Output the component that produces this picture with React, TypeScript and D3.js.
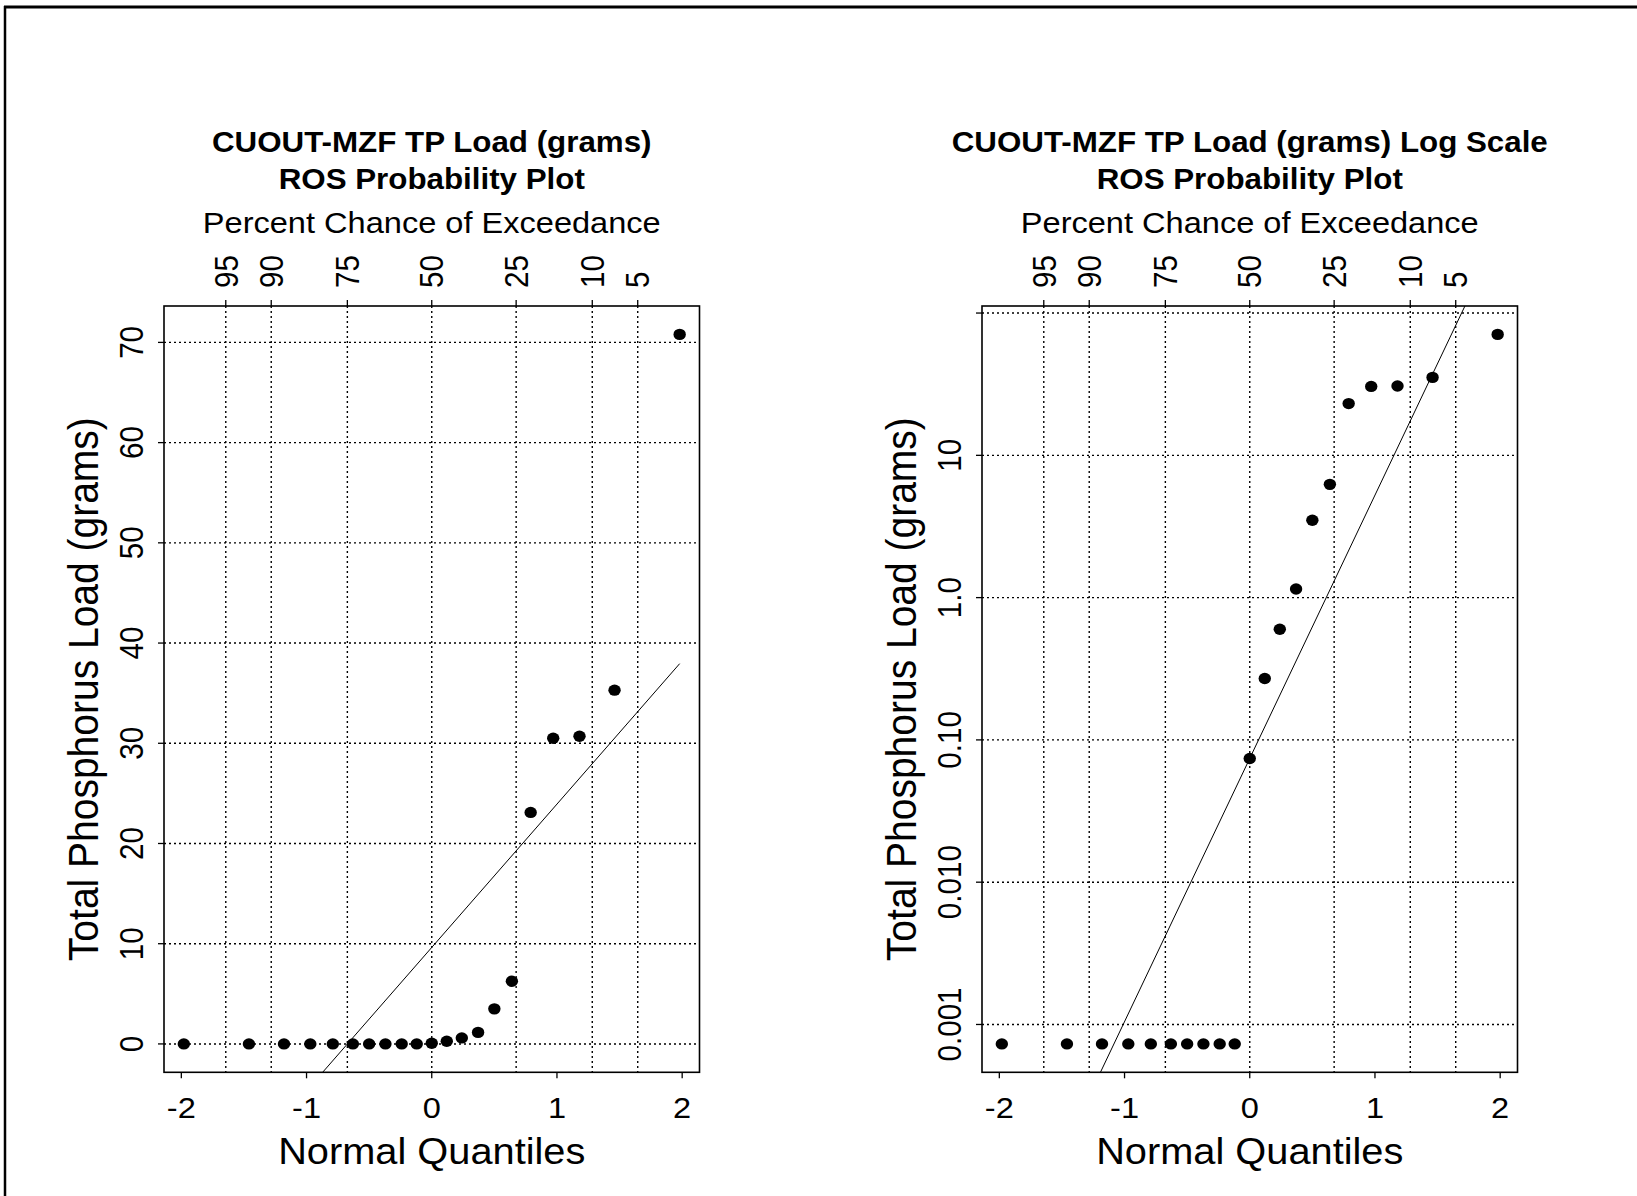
import React from 'react';
import * as d3 from 'd3';

const W = 1637;
const H = 1196;
const FONT = '"Liberation Sans", Arial, Helvetica, sans-serif';
const SX = 1.1; // the original picture is a little wider than tall

// normal quantile of each plotted point
const quantiles = [
  -1.98, -1.46, -1.18, -0.97, -0.79, -0.63, -0.5, -0.37, -0.24, -0.12,
  0, 0.12, 0.24, 0.37, 0.5, 0.64, 0.79, 0.97, 1.18, 1.46, 1.98,
];
// TP load in grams; the ten nondetects sit at ~0.00073
const loads = [
  0.00073, 0.00073, 0.00073, 0.00073, 0.00073, 0.00073, 0.00073, 0.00073, 0.00073, 0.00073,
  0.074, 0.27, 0.6, 1.15, 3.5, 6.25, 23.1, 30.5, 30.7, 35.3, 70.8,
];

const exceedLabels = ['95', '90', '75', '50', '25', '10', '5'];
const exceedQuantiles = [-1.645, -1.282, -0.674, 0, 0.674, 1.282, 1.645];
const quantileTicks = [-2, -1, 0, 1, 2];
const linearTicks = [0, 10, 20, 30, 40, 50, 60, 70];
const linearTickLabels = ['0', '10', '20', '30', '40', '50', '60', '70'];
const logTicks = [0.001, 0.01, 0.1, 1, 10, 100];
const logTickLabels = ['0.001', '0.010', '0.10', '1.0', '10', ''];

// fitted lines: linear plot in grams, log plot in log10(grams)
const linearFit = { intercept: 9.63, slope: 14.3 };
const logFit = { intercept: -1.13, slope: 1.85 };

const BOX_W = 535.5;
const TOP = 306;
const BOTTOM = 1072.3;

// R style 4% padding of the data range
const pad = (lo, hi) => [lo - 0.04 * (hi - lo), hi + 0.04 * (hi - lo)];
const qExt = d3.extent(quantiles);
const xDomain = pad(qExt[0], qExt[1]);
const lExt = d3.extent(loads);
const linDomain = pad(lExt[0], lExt[1]);
const logDomain = pad(Math.log10(lExt[0]), Math.log10(lExt[1])).map((v) => Math.pow(10, v));

const HText = ({ x, y, size, bold = false, anchor = 'middle', sx = SX, children }) => (
  <text
    transform={`translate(${x},${y}) scale(${sx},1)`}
    textAnchor={anchor}
    fontSize={size}
    fontWeight={bold ? 'bold' : 'normal'}
    fontFamily={FONT}
    fill="#000"
  >
    {children}
  </text>
);

const VText = ({ x, y, size, anchor = 'middle', dy = 0, children }) => (
  <text
    transform={`translate(${x},${y}) scale(${SX},1) rotate(-90)`}
    textAnchor={anchor}
    dy={dy}
    fontSize={size}
    fontFamily={FONT}
    fill="#000"
  >
    {children}
  </text>
);

const Panel = ({ id, left, titles, y, yTicks, yTickLabels, fitY }) => {
  const right = left + BOX_W;
  const cx = (left + right) / 2;
  const cy = (TOP + BOTTOM) / 2;
  const x = d3.scaleLinear().domain(xDomain).range([left, right]);
  const line = d3
    .line()
    .x((q) => x(q))
    .y((q) => y(fitY(q)));
  const ends = [quantiles[0], quantiles[quantiles.length - 1]];

  return (
    <g>
      <defs>
        <clipPath id={id}>
          <rect x={left} y={TOP} width={BOX_W} height={BOTTOM - TOP} />
        </clipPath>
      </defs>

      <HText x={cx} y={152} size={29} bold sx={1.08}>{titles[0]}</HText>
      <HText x={cx} y={189} size={29} bold sx={1.08}>{titles[1]}</HText>
      <HText x={cx} y={233} size={29.6}>Percent Chance of Exceedance</HText>

      {/* grid */}
      {exceedQuantiles.map((q) => (
        <line key={'gv' + q} x1={x(q)} x2={x(q)} y1={TOP} y2={BOTTOM}
          stroke="#000" strokeWidth={1.4} strokeDasharray="2 3" />
      ))}
      {yTicks.map((t) => (
        <line key={'gh' + t} x1={left} x2={right} y1={y(t)} y2={y(t)}
          stroke="#000" strokeWidth={1.4} strokeDasharray="2 3" />
      ))}

      {/* top axis: percent exceedance */}
      {exceedQuantiles.map((q, i) => (
        <g key={'tt' + q}>
          <line x1={x(q)} x2={x(q)} y1={TOP - 6} y2={TOP} stroke="#000" strokeWidth={1.3} />
          <VText x={x(q)} y={TOP - 18} size={29.6} anchor="start" dy="0.36em">
            {exceedLabels[i]}
          </VText>
        </g>
      ))}

      {/* bottom axis */}
      {quantileTicks.map((q) => (
        <g key={'bt' + q}>
          <line x1={x(q)} x2={x(q)} y1={BOTTOM} y2={BOTTOM + 6} stroke="#000" strokeWidth={1.3} />
          <HText x={x(q)} y={BOTTOM + 46} size={29.6}>{String(q)}</HText>
        </g>
      ))}
      <HText x={cx} y={BOTTOM + 92} size={37} sx={1.075}>Normal Quantiles</HText>

      {/* left axis */}
      {yTicks.map((t, i) => (
        <g key={'lt' + t}>
          <line x1={left - 6} x2={left} y1={y(t)} y2={y(t)} stroke="#000" strokeWidth={1.3} />
          <VText x={left - 21} y={y(t)} size={29.6}>{yTickLabels[i]}</VText>
        </g>
      ))}
      <VText x={left - 66} y={cy} size={39}>Total Phosphorus Load (grams)</VText>

      {/* fit line */}
      <path d={line(ends)} fill="none" stroke="#000" strokeWidth={1} clipPath={`url(#${id})`} />

      {/* points */}
      {quantiles.map((q, i) => (
        <ellipse key={'p' + i} cx={x(q)} cy={y(loads[i])} rx={6.2} ry={5.7} fill="#000" />
      ))}

      <rect x={left} y={TOP} width={BOX_W} height={BOTTOM - TOP} fill="none" stroke="#000" strokeWidth={1.6} />
    </g>
  );
};

export default function App() {
  const yLin = d3.scaleLinear().domain(linDomain).range([BOTTOM, TOP]);
  const yLog = d3.scaleLog().domain(logDomain).range([BOTTOM, TOP]);

  return (
    <svg
      width={W}
      height={H}
      viewBox={`0 0 ${W} ${H}`}
      style={{ position: 'absolute', left: 0, top: 0, background: '#fff' }}
    >
      <rect x={0} y={0} width={W} height={H} fill="#fff" />
      <line x1={5} x2={5} y1={6} y2={H} stroke="#000" strokeWidth={2.5} />
      <line x1={4} x2={W} y1={7} y2={7} stroke="#000" strokeWidth={2.8} />

      <Panel
        id="clipLin"
        left={164}
        titles={['CUOUT-MZF TP Load (grams)', 'ROS Probability Plot']}
        y={yLin}
        yTicks={linearTicks}
        yTickLabels={linearTickLabels}
        fitY={(q) => linearFit.intercept + linearFit.slope * q}
      />
      <Panel
        id="clipLog"
        left={982}
        titles={['CUOUT-MZF TP Load (grams) Log Scale', 'ROS Probability Plot']}
        y={yLog}
        yTicks={logTicks}
        yTickLabels={logTickLabels}
        fitY={(q) => Math.pow(10, logFit.intercept + logFit.slope * q)}
      />
    </svg>
  );
}
